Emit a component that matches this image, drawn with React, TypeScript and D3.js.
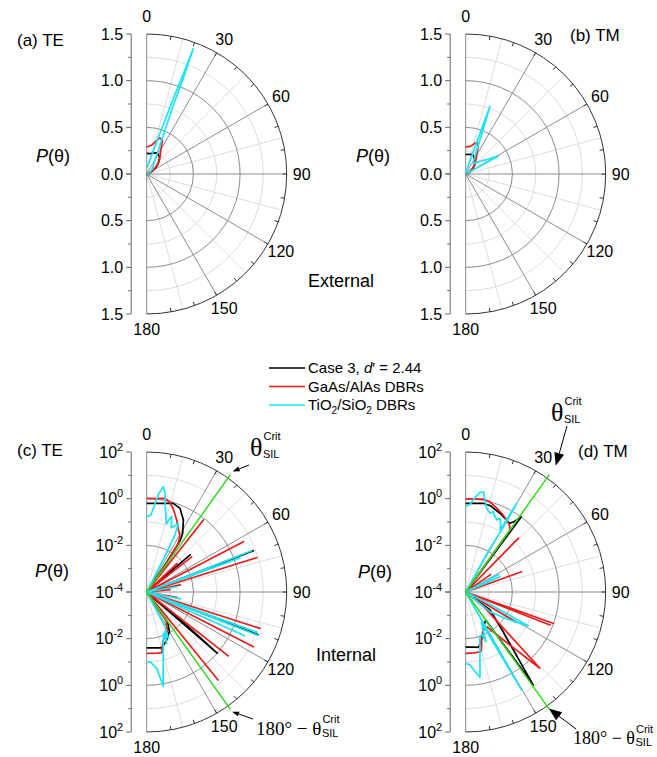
import { useEffect, useRef } from "react";
import * as d3 from "d3";

type Pt = [number, number]; // [theta in degrees, P(theta)]

const angleLabels = [0, 30, 60, 90, 120, 150, 180];
const majorAngles = [30, 60, 90, 120, 150];
const minorAngles = [15, 45, 75, 105, 135, 165];
const linMajor = [0.5, 1.0];
const linMinor = [0.25, 0.75, 1.25];
const linTicks = [0, 0.5, 1.0, 1.5];
const logMajor = [1e-2, 1];
const logMinor = [1e-3, 1e-1, 1e1];
const logTicks = [1e-4, 1e-2, 1, 1e2];

const critAngle = 35.5;
const critLength = 150; // green line runs slightly past the outer circle

const seriesColors = ["#000000", "#ee1b1b", "#1ee3f0"];
const critColor = "#2edb22";

// (a) TE external
const teExtBlack: Pt[] = [[0, 0.22], [10, 0.222], [18, 0.235], [25, 0.25], [32, 0.24], [39, 0.22], [45, 0.18], [50, 0.15], [55, 0.12], [60, 0.08], [70, 0.03], [80, 0.01], [90, 0]];
const teExtRed: Pt[] = [[0, 0.29], [10, 0.315], [16, 0.37], [20, 0.41], [25, 0.4], [28, 0.34], [31, 0.29], [37, 0.24], [44, 0.19], [50, 0.15], [57, 0.1], [65, 0.05], [75, 0.02], [90, 0]];
const teExtCyan: Pt[] = [[0, 0.08], [5, 0.08], [10, 0.11], [12, 0.145], [15, 0.21], [17, 0.34], [18, 0.45], [19.2, 0.75], [20, 1.1], [20.4, 1.43], [21, 1.05], [21.3, 0.75], [22.3, 0.55], [23.8, 0.4], [26, 0.29], [29.3, 0.2], [35, 0.13], [45, 0.09], [51, 0.07], [60, 0.04], [75, 0.01], [90, 0]];

// (b) TM external
const tmExtBlack: Pt[] = [[0, 0.21], [10, 0.212], [17, 0.22], [22, 0.215], [26, 0.2], [32, 0.18], [40, 0.15], [46, 0.13], [55, 0.08], [65, 0.04], [80, 0.01], [90, 0]];
const tmExtRed: Pt[] = [[0, 0.29], [10, 0.3], [16, 0.34], [19.4, 0.36], [23, 0.34], [25, 0.31], [28, 0.26], [33, 0.21], [40, 0.16], [46, 0.13], [55, 0.08], [65, 0.04], [80, 0.01], [90, 0]];
const tmExtCyan: Pt[] = [[0, 0.02], [8, 0.03], [14, 0.05], [16, 0.09], [17.6, 0.12], [18.8, 0.23], [19.4, 0.41], [19.7, 0.77], [22.2, 0.45], [24.8, 0.28], [30, 0.18], [35.4, 0.14], [48, 0.2], [54.6, 0.26], [61, 0.4], [61.5, 0.2], [62, 0.05], [65, 0.01], [90, 0]];

// (c) TE internal
const teIntBlack: Pt[] = [
  [0, 0.63], [10, 0.72], [16.7, 0.93], [21.7, 0.72], [27, 0.29], [31.5, 0.089], [33, 0.045], [34, 0.003], [35, 1e-5],
  [49, 1e-5], [49.5, 0.028], [50, 1e-5],
  [68.4, 1e-5], [68.8, 8], [69.2, 1e-5],
  [110.6, 1e-5], [111, 13], [111.4, 1e-5],
  [129.5, 1e-5], [129.8, 0.017], [131, 1.0], [131.4, 1e-5],
  [144, 1e-5], [145, 0.003], [146.8, 0.0049], [150.3, 0.0091], [157.4, 0.017], [161, 0.022], [165, 0.03], [170, 0.027], [180, 0.025],
];
const teIntRed: Pt[] = [
  [0, 1.03], [5, 1.05], [11, 1.23], [14, 1.0], [17.6, 0.57], [22.6, 0.22], [27, 0.1], [31, 0.059], [33, 0.03], [35, 0.003], [36, 1e-5],
  [37.8, 1e-5], [38.2, 0.85], [38.6, 1e-5],
  [46.6, 1e-5], [47, 0.006], [47.4, 1e-5],
  [51.6, 1e-5], [52, 0.028], [52.4, 1e-5],
  [62.1, 1e-5], [62.5, 4.7], [62.9, 1e-5],
  [72.3, 1e-5], [72.7, 8.7], [73.1, 1e-5],
  [77.6, 1e-5], [78, 0.003], [78.4, 1e-5],
  [83.6, 1e-5], [84, 0.001], [84.4, 1e-5],
  [99.6, 1e-5], [100, 0.002], [100.4, 1e-5],
  [107.4, 1e-5], [107.8, 12.6], [108.2, 1e-5],
  [116.8, 1e-5], [117.2, 13.8], [117.6, 1e-5],
  [127.7, 1e-5], [128.1, 2.75], [128.5, 1e-5],
  [140.6, 1e-5], [141, 7.2], [141.4, 1e-5],
  [144, 1e-5], [146, 0.003], [152, 0.008], [161, 0.015], [165, 0.035], [166, 0.048], [170, 0.046], [180, 0.043],
];
const teIntCyan: Pt[] = [
  [0, 0.17], [3, 0.2], [5, 0.5], [7, 1.8], [9, 3.7], [10.5, 2.0], [12, 0.65], [14, 0.25], [16.2, 0.11], [17.5, 0.2], [18.4, 0.26], [19.5, 0.15], [21, 0.09], [23, 0.12], [24.8, 0.17], [25.5, 0.1], [26.4, 0.054], [27, 0.005], [27.5, 1e-5],
  [68.1, 1e-5], [68.5, 6.8], [68.9, 1e-5],
  [69.6, 1e-5], [70, 1.8], [70.4, 1e-5],
  [79.6, 1e-5], [80, 0.002], [80.4, 1e-5],
  [101, 1e-5], [101.4, 0.003], [101.8, 1e-5],
  [109.6, 1e-5], [110, 11], [110.4, 1e-5],
  [110.9, 1e-5], [111.3, 13.5], [111.7, 1e-5],
  [113.6, 1e-5], [114, 4], [114.4, 1e-5],
  [150, 1e-5], [152, 0.004], [154.9, 0.0155], [155.2, 0.0074], [157, 0.012], [158.7, 0.023], [158, 0.0081], [161.6, 0.018], [166.7, 0.12], [169, 0.51], [170, 1.3], [172.5, 0.2], [177.3, 0.098], [180, 0.107],
];

// (d) TM internal
const tmIntBlack: Pt[] = [
  [0, 0.63], [11.2, 0.75], [16, 0.7], [23.5, 0.48], [29.7, 0.35], [32.4, 0.31], [34.5, 0.45], [36.5, 1.0], [37, 1e-5],
  [126, 1e-5], [126.5, 0.002], [136.2, 0.018], [140.3, 0.14], [142.6, 1.07], [144, 8.5], [144.5, 0.003],
  [150, 0.004], [155, 0.0063], [160.3, 0.011], [163.7, 0.019], [167, 0.027], [172, 0.024], [180, 0.023],
];
const tmIntRed: Pt[] = [
  [0, 0.98], [10.7, 1.13], [15, 1.0], [20.3, 0.68], [25, 0.5], [29.7, 0.35], [33, 0.27], [35.5, 0.19], [35.7, 1e-5],
  [44, 1e-5], [44.4, 0.17], [44.8, 1e-5],
  [54.6, 1e-5], [55, 0.002], [55.4, 1e-5],
  [69.6, 1e-5], [70, 0.035], [70.4, 1e-5],
  [109.3, 1e-5], [109.7, 1.0], [110.1, 1e-5],
  [111, 1e-5], [111.4, 0.76], [111.8, 1e-5],
  [120.6, 1e-5], [121, 0.03], [121.4, 1e-5],
  [128, 1e-5], [129, 0.001], [135.8, 3.6], [140, 0.1], [148.8, 0.0055], [155.2, 0.0063], [161.6, 0.015], [165, 0.04], [166.5, 0.043], [172, 0.043], [180, 0.043],
];
const tmIntCyan: Pt[] = [
  [0, 0.46], [3, 0.6], [6, 1.3], [8, 2.0], [10, 2.3], [12, 1.0], [14, 0.5], [17.2, 0.34], [19, 0.45], [21, 0.3], [23.3, 0.23], [25, 0.3], [27, 0.2], [29, 0.11], [29.9, 2.4], [30.2, 0.3], [29, 0.01], [28.8, 1e-5],
  [61.6, 1e-5], [62, 0.004], [62.4, 1e-5],
  [65.6, 1e-5], [66, 0.004], [66.4, 1e-5],
  [115, 1e-5], [117, 0.002], [118.5, 0.11], [124, 0.01], [129, 0.0022], [131, 1e-5],
  [150, 1e-5], [150.3, 6.9], [152.9, 0.003], [156, 0.008], [158, 0.02], [159, 0.009], [162.2, 0.01], [166.6, 0.044], [168.5, 0.115], [170.5, 0.51], [173.3, 0.27], [176.6, 0.135], [180, 0.115],
];

const R = 140;
const FONT = "'Liberation Sans', Arial, sans-serif";
const SERIF = "'Liberation Serif', 'Times New Roman', serif";

function polar(deg: number, rr: number): [number, number] {
  const a = (deg * Math.PI) / 180;
  return [rr * Math.sin(a), -rr * Math.cos(a)];
}

function halfCircle(rr: number) {
  const p = d3.path();
  p.moveTo(0, -rr);
  p.arc(0, 0, rr, -Math.PI / 2, Math.PI / 2);
  return p.toString();
}

function drawPanel(svg: any, p: any) {
  const r: any = p.log
    ? d3.scaleLog().domain([1e-4, 1e2]).range([0, R]).clamp(true)
    : d3.scaleLinear().domain([0, 1.5]).range([0, R]).clamp(true);
  const g = svg.append("g").attr("transform", `translate(${p.cx},${p.cy})`);

  const minor = p.log ? logMinor : linMinor;
  const major = p.log ? logMajor : linMajor;

  minor.forEach((v: number) =>
    g.append("path").attr("d", halfCircle(r(v))).attr("fill", "none").attr("stroke", "#dcdcdc"));
  minorAngles.forEach(a => {
    const [x, y] = polar(a, R);
    g.append("line").attr("x1", 0).attr("y1", 0).attr("x2", x).attr("y2", y).attr("stroke", "#dcdcdc");
  });
  major.forEach((v: number) =>
    g.append("path").attr("d", halfCircle(r(v))).attr("fill", "none").attr("stroke", "#8c8c8c"));
  majorAngles.forEach(a => {
    const [x, y] = polar(a, R);
    g.append("line").attr("x1", 0).attr("y1", 0).attr("x2", x).attr("y2", y).attr("stroke", "#8c8c8c");
  });
  g.append("line").attr("x1", 0).attr("y1", -R).attr("x2", 0).attr("y2", R).attr("stroke", "#8c8c8c");

  // outer arc with small inward ticks
  g.append("path").attr("d", halfCircle(R)).attr("fill", "none").attr("stroke", "#333");
  d3.range(10, 180, 10).forEach(a => {
    const [x1, y1] = polar(a, R - 4);
    const [x2, y2] = polar(a, R);
    g.append("line").attr("x1", x1).attr("y1", y1).attr("x2", x2).attr("y2", y2).attr("stroke", "#333");
  });

  angleLabels.forEach(a => {
    const [x, y] = polar(a, a === 0 ? 158 : 155);
    g.append("text")
      .attr("x", x).attr("y", y).attr("dy", "0.35em")
      .attr("text-anchor", "middle")
      .style("font-family", FONT).style("font-size", "16px")
      .text(a);
  });

  const line = d3.lineRadial<Pt>()
    .angle(d => (d[0] * Math.PI) / 180)
    .radius(d => r(d[1]));

  p.series.forEach((s: Pt[], i: number) => {
    g.append("path")
      .attr("d", line(s))
      .attr("fill", "none")
      .attr("stroke", seriesColors[i])
      .attr("stroke-width", 1.7)
      .attr("stroke-linejoin", "round");
  });

  if (p.crit) {
    [critAngle, 180 - critAngle].forEach(a => {
      const rr = r.copy().clamp(false)(critLength);
      const [x, y] = polar(a, rr);
      g.append("line").attr("x1", 0).attr("y1", 0).attr("x2", x).attr("y2", y)
        .attr("stroke", critColor).attr("stroke-width", 1.5);
    });
  }

  // left radial axis, mirrored about the centre
  const ax = -15.5;
  const axis = g.append("g").attr("stroke", "#666");
  axis.append("line").attr("x1", ax).attr("y1", -R).attr("x2", ax).attr("y2", R);
  const ticks = p.log ? logTicks : linTicks;
  [-1, 1].forEach(side => {
    ticks.forEach((v: number) => {
      const y = side * r(v);
      axis.append("line").attr("x1", ax - 5).attr("x2", ax).attr("y1", y).attr("y2", y);
      if (side === 1 && y === 0) return;
      const t = g.append("text")
        .attr("x", ax - 8).attr("y", y).attr("dy", "0.35em")
        .attr("text-anchor", "end")
        .style("font-family", FONT).style("font-size", "16px");
      if (p.log) {
        t.append("tspan").text("10");
        t.append("tspan").attr("dy", -7).style("font-size", "11px").text(Math.round(Math.log10(v)));
      } else {
        t.text(d3.format(".1f")(v));
      }
    });
    minor.forEach((v: number) => {
      const y = side * r(v);
      axis.append("line").attr("x1", ax - 3).attr("x2", ax).attr("y1", y).attr("y2", y);
    });
  });

  svg.append("text")
    .attr("x", p.titleX).attr("y", p.titleY)
    .style("font-family", FONT).style("font-size", "17px")
    .text(p.title);

  const pl = svg.append("text")
    .attr("x", p.pX).attr("y", p.pY)
    .style("font-family", FONT).style("font-size", "18px");
  pl.append("tspan").style("font-style", "italic").text("P");
  pl.append("tspan").text("(θ)");

  return { g, r };
}

function arrow(svg: any, x1: number, y1: number, x2: number, y2: number, len: number, half: number) {
  const dx = x2 - x1, dy = y2 - y1;
  const L = Math.hypot(dx, dy);
  const ux = dx / L, uy = dy / L;
  const bx = x2 - ux * len, by = y2 - uy * len;
  svg.append("line").attr("x1", x1).attr("y1", y1).attr("x2", bx).attr("y2", by)
    .attr("stroke", "#000").attr("stroke-width", 1);
  svg.append("path")
    .attr("d", `M${x2},${y2}L${bx - uy * half},${by + ux * half}L${bx + uy * half},${by - ux * half}Z`)
    .attr("fill", "#000");
}

function critLabel(svg: any, x: number, y: number, size: number, prefix: string) {
  const t = svg.append("text").attr("x", x).attr("y", y)
    .style("font-family", SERIF).style("font-size", `${size}px`)
    .text(prefix + "θ");
  const w = t.node().getComputedTextLength();
  svg.append("text").attr("x", x + w + 1).attr("y", y - size * 0.62)
    .style("font-family", FONT).style("font-size", "11px").text("Crit");
  svg.append("text").attr("x", x + w + 0.5).attr("y", y + 2)
    .style("font-family", FONT).style("font-size", "11px").text("SIL");
}

export default function App() {
  const svgRef = useRef<SVGSVGElement>(null);

  useEffect(() => {
    const svg = d3.select(svgRef.current);
    svg.selectAll("*").remove();

    drawPanel(svg, { cx: 146.7, cy: 174, log: false, series: [teExtBlack, teExtRed, teExtCyan], title: "(a) TE", titleX: 17, titleY: 46, pX: 36, pY: 162 });
    drawPanel(svg, { cx: 465.7, cy: 174, log: false, series: [tmExtBlack, tmExtRed, tmExtCyan], title: "(b) TM", titleX: 570, titleY: 41, pX: 356, pY: 162 });
    drawPanel(svg, { cx: 146.7, cy: 592, log: true, crit: true, series: [teIntBlack, teIntRed, teIntCyan], title: "(c) TE", titleX: 17, titleY: 456, pX: 35, pY: 577 });
    drawPanel(svg, { cx: 465.7, cy: 592, log: true, crit: true, series: [tmIntBlack, tmIntRed, tmIntCyan], title: "(d) TM", titleX: 578, titleY: 457, pX: 358, pY: 578 });

    svg.append("text").attr("x", 308).attr("y", 287)
      .style("font-family", FONT).style("font-size", "18px").text("External");
    svg.append("text").attr("x", 316).attr("y", 661)
      .style("font-family", FONT).style("font-size", "18px").text("Internal");

    // legend
    const legendY = [368, 386.5, 405];
    legendY.forEach((y, i) => {
      svg.append("line").attr("x1", 269).attr("x2", 305).attr("y1", y).attr("y2", y)
        .attr("stroke", seriesColors[i]).attr("stroke-width", 1.7);
    });
    const t1 = svg.append("text").attr("x", 308).attr("y", legendY[0] + 5)
      .style("font-family", FONT).style("font-size", "15px");
    t1.append("tspan").text("Case 3, ");
    t1.append("tspan").style("font-style", "italic").text("d");
    t1.append("tspan").text("′ = 2.44");
    svg.append("text").attr("x", 308).attr("y", legendY[1] + 5)
      .style("font-family", FONT).style("font-size", "15px").text("GaAs/AlAs DBRs");
    const t3 = svg.append("text").attr("x", 308).attr("y", legendY[2] + 5)
      .style("font-family", FONT).style("font-size", "15px");
    t3.append("tspan").text("TiO");
    t3.append("tspan").attr("dy", 4).style("font-size", "10px").text("2");
    t3.append("tspan").attr("dy", -4).text("/SiO");
    t3.append("tspan").attr("dy", 4).style("font-size", "10px").text("2");
    t3.append("tspan").attr("dy", -4).text(" DBRs");

    // critical-angle annotations: arrow tips sit on the green lines
    const tip = (cx: number, cy: number, a: number, rr: number) => {
      const [x, y] = polar(a, rr);
      return [cx + x, cy + y];
    };
    const [c1x, c1y] = tip(146.7, 592, critAngle, 148);
    arrow(svg, 249, 465, c1x, c1y, 7, 2.5);
    const [c2x, c2y] = tip(146.7, 592, 180 - critAngle, 147);
    arrow(svg, 253, 719, c2x, c2y, 7, 2.5);
    const [d1x, d1y] = tip(465.7, 592, critAngle, 155);
    arrow(svg, 567, 426, d1x, d1y, 13, 5);
    const [d2x, d2y] = tip(465.7, 592, 180 - critAngle, 143);
    arrow(svg, 576, 729, d2x, d2y, 13, 5);

    critLabel(svg, 250, 456, 26, "");
    critLabel(svg, 551, 421, 26, "");
    critLabel(svg, 256, 735, 19, "180° − ");
    critLabel(svg, 573, 744, 18, "180° − ");
  }, []);

  return (
    <svg
      ref={svgRef}
      width={657}
      height={757}
      style={{ position: "absolute", left: 0, top: 0, background: "#fff" }}
    />
  );
}
